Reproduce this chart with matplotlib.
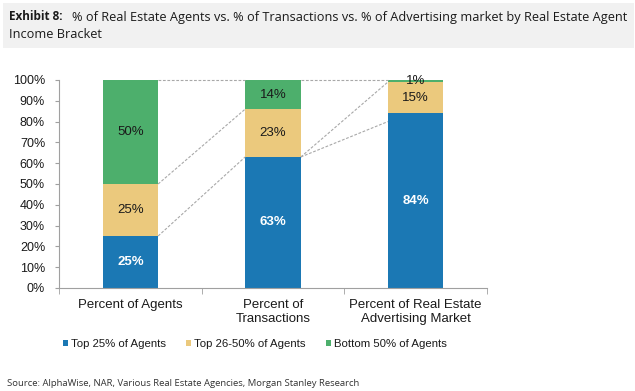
import matplotlib
matplotlib.use("Agg")
import matplotlib.pyplot as plt
from matplotlib.patches import Rectangle
import numpy as np

categories = ["Percent of Agents", "Percent of\nTransactions", "Percent of Real Estate\nAdvertising Market"]
series_names = ["Top 25% of Agents", "Top 26-50% of Agents", "Bottom 50% of Agents"]
top25 = [0.25, 0.63, 0.84]
top26_50 = [0.25, 0.23, 0.15]
bottom50 = [0.50, 0.14, 0.01]
# dashed connector endpoints (left bar value, right bar value) as drawn in the exhibit
connectors_1_2 = [(1.00, 1.00), (0.50, 0.86), (0.25, 0.63)]
connectors_2_3 = [(1.00, 1.00), (0.63, 0.99), (0.63, 0.80)]
yticks = [0.0, 0.1, 0.2, 0.3, 0.4, 0.5, 0.6, 0.7, 0.8, 0.9, 1.0]
ytick_labels = ["0%", "10%", "20%", "30%", "40%", "50%", "60%", "70%", "80%", "90%", "100%"]

colors = ["#1b78b4", "#ebc97d", "#4daf6c"]
label_colors = ["white", "#1a1a1a", "#1a1a1a"]
label_weights = ["bold", "normal", "normal"]

W, H = 635, 391
fig = plt.figure(figsize=(W / 100, H / 100), dpi=100)
fig.patch.set_facecolor("white")

# title band
fig.patches.append(Rectangle((3 / W, 1 - 48 / H), 631 / W, 45 / H, transform=fig.transFigure,
                             facecolor="#f1f1f1", edgecolor="none", zorder=0))

ax = fig.add_axes([59 / W, 1 - 288 / H, 428 / W, 208 / H])
x = np.arange(len(categories))
bw = 0.39
series = [top25, top26_50, bottom50]
bottoms = np.zeros(len(categories))
containers = []
for vals, c, lc, lw_ in zip(series, colors, label_colors, label_weights):
    vals = np.array(vals)
    bc = ax.bar(x, vals, bw, bottom=bottoms, color=c, edgecolor="none", zorder=2)
    containers.append(bc)
    for xi, b, v in zip(x, bottoms, vals):
        ax.text(xi, b + v / 2, f"{int(round(v * 100))}%", ha="center", va="center",
                fontsize=9.5, color=lc, fontweight=lw_, family="Liberation Sans", zorder=4)
    bottoms = bottoms + vals

def draw_connectors(i, pairs):
    x0 = x[i] + bw / 2
    x1 = x[i + 1] - bw / 2
    for a, b in pairs:
        ax.plot([x0, x1], [a, b], color="#a8a8a8", lw=0.8, ls=(0, (2.5, 1.5)), zorder=3,
                clip_on=False)

draw_connectors(0, connectors_1_2)
draw_connectors(1, connectors_2_3)

ax.set_xlim(-0.5, 2.5)
ax.set_ylim(0, 1)
ax.set_yticks(yticks)
ax.set_yticklabels(ytick_labels)
ax.set_xticks(x)
ax.set_xticklabels(categories)
ax.set_xticks([-0.5, 0.5, 1.5, 2.5], minor=True)
ax.tick_params(axis="x", which="major", length=0, pad=8, labelsize=9.5)
ax.tick_params(axis="x", which="minor", length=4, color="#a0a0a0", direction="out")
ax.tick_params(axis="y", length=3, color="#a0a0a0", pad=7, labelsize=9)
for lab in ax.get_xticklabels() + ax.get_yticklabels():
    lab.set_family("Liberation Sans")
    lab.set_color("#1a1a1a")
for s in ["top", "right"]:
    ax.spines[s].set_visible(False)
for s in ["left", "bottom"]:
    ax.spines[s].set_color("#a0a0a0")
    ax.spines[s].set_linewidth(0.8)

leg = fig.legend([c.patches[0] for c in containers], series_names, loc="center",
                 bbox_to_anchor=(255 / W, 1 - 344 / H), ncol=3, frameon=False,
                 prop={"family": "Liberation Sans", "size": 8.2},
                 handlelength=0.45, handleheight=0.45, handletextpad=0.25,
                 columnspacing=1.8, borderpad=0)
for t in leg.get_texts():
    t.set_color("#1a1a1a")

# title
tfont = "Open Sans"
t1 = fig.text(9 / W, 1 - 17 / H, "Exhibit 8:", fontsize=8.5, fontweight="bold",
              family=tfont, va="center", ha="left", color="#1a1a1a")
fig.canvas.draw()
r = fig.canvas.get_renderer()
bb = t1.get_window_extent(r)
fig.text((bb.x1 + 9) / W, 1 - 17 / H,
         "% of Real Estate Agents vs. % of Transactions vs. % of Advertising market by Real Estate Agent",
         fontsize=9.2, family=tfont, va="center", ha="left", color="#1a1a1a")
fig.text(9 / W, 1 - 35 / H, "Income Bracket", fontsize=9.2, family=tfont,
         va="center", ha="left", color="#1a1a1a")

fig.text(7 / W, 1 - 384 / H,
         "Source: AlphaWise, NAR, Various Real Estate Agencies, Morgan Stanley Research",
         fontsize=6.8, family=tfont, va="center", ha="left", color="#333333")

fig.savefig("out.png", dpi=100)
